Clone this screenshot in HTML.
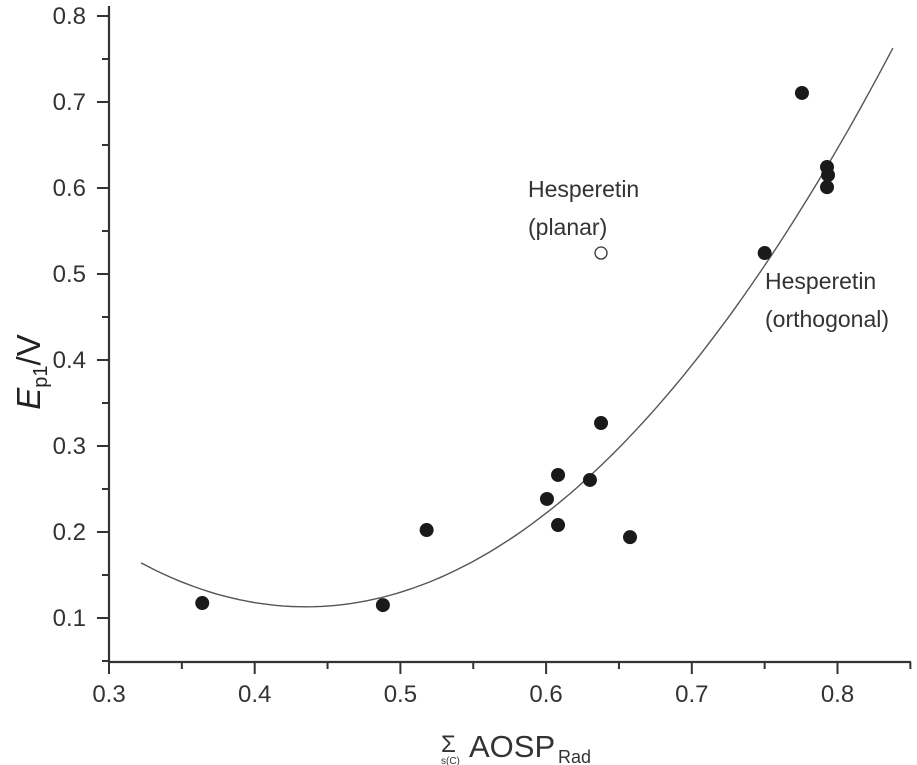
<!DOCTYPE html>
<html><head><meta charset="utf-8"><style>
body{margin:0;background:#fff;}
svg{display:block;font-family:"Liberation Sans",sans-serif;}
</style></head><body>
<svg id="chart" width="917" height="765" viewBox="0 0 917 765">
<g id="axes"></g>
<g id="marks"></g>
<text x="528" y="197" font-size="23" fill="#333">Hesperetin</text>
<text x="528" y="235" font-size="23" fill="#333">(planar)</text>
<text x="765" y="289" font-size="23" fill="#333">Hesperetin</text>
<text x="765" y="327" font-size="23" fill="#333">(orthogonal)</text>
<text transform="translate(40,372) rotate(-90)" text-anchor="middle" font-size="33" fill="#222"><tspan font-style="italic">E</tspan><tspan font-size="20" dy="7">p1</tspan><tspan dy="-7">/V</tspan></text>
<g fill="#333">
<text x="441" y="752" font-size="24">Σ</text>
<text x="441" y="764" font-size="10">s(C)</text>
<text x="469" y="757" font-size="31">AOSP</text>
<text x="558" y="763" font-size="18">Rad</text>
</g>
</svg>
<script>
const xTicks=[0.3,0.4,0.5,0.6,0.7,0.8];
const yTicks=[0.1,0.2,0.3,0.4,0.5,0.6,0.7,0.8];
const xTickLabels=["0.3","0.4","0.5","0.6","0.7","0.8"];
const yTickLabels=["0.1","0.2","0.3","0.4","0.5","0.6","0.7","0.8"];
const xVals=[0.364,0.488,0.518,0.6006,0.6082,0.6082,0.6301,0.6377,0.6576,0.750,0.7756,0.7928,0.7935,0.7928];
const yVals=[0.1174,0.115,0.2023,0.2384,0.2663,0.2081,0.2605,0.3267,0.194,0.5244,0.7105,0.6244,0.615,0.601];
const openX=[0.6377];
const openY=[0.5244];
const fitCoef=[4.0,0.435,0.113]; // a, vertex x, vertex y
const fitRange=[0.322,0.838];
const NS="http://www.w3.org/2000/svg";
function sx(v){return 109+(v-0.3)*1457;}
function sy(v){return 16+(0.8-v)*860;}
function mk(tag,at,parent){const e=document.createElementNS(NS,tag);for(const k in at)e.setAttribute(k,at[k]);parent.appendChild(e);return e;}
const ax=document.getElementById('axes'),mg=document.getElementById('marks');
let e=mk('line',{x1:109,y1:662,x2:911,y2:662,stroke:'#333','stroke-width':2.2},ax);


e=mk('line',{x1:109,y1:6,x2:109,y2:663,stroke:'#333','stroke-width':2.2},ax);


for(let i=0;i<xTicks.length;i++){
 const x=sx(xTicks[i]);
 mk('line',{x1:x,y1:662,x2:x,y2:674,stroke:'#333','stroke-width':2},ax);
 const m=sx(xTicks[i]+0.05);
 mk('line',{x1:m,y1:662,x2:m,y2:669,stroke:'#333','stroke-width':2},ax);
 const t=mk('text',{x:x,y:702,'text-anchor':'middle','font-size':24,fill:'#333'},ax);
 t.textContent=xTickLabels[i];
 
 
}
for(let i=0;i<yTicks.length;i++){
 const y=sy(yTicks[i]);
 mk('line',{x1:97,y1:y,x2:109,y2:y,stroke:'#333','stroke-width':2},ax);
 const m=sy(yTicks[i]-0.05);
 mk('line',{x1:102,y1:m,x2:109,y2:m,stroke:'#333','stroke-width':2},ax);
 const t=mk('text',{x:86,y:y+8,'text-anchor':'end','font-size':24,fill:'#333'},ax);
 t.textContent=yTickLabels[i];
 
 
}
let d='';
for(let k=0;k<=100;k++){const x=fitRange[0]+(fitRange[1]-fitRange[0])*k/100;const y=fitCoef[0]*(x-fitCoef[1])**2+fitCoef[2];d+=(k?'L':'M')+sx(x).toFixed(1)+','+sy(y).toFixed(1);}
e=mk('path',{d:d,fill:'none',stroke:'#555','stroke-width':1.4},mg);


for(let i=0;i<xVals.length;i++){
 const c=mk('circle',{cx:sx(xVals[i]),cy:sy(yVals[i]),r:7,fill:'#1a1a1a'},mg);
 
 
}
for(let i=0;i<openX.length;i++){
 const c=mk('circle',{cx:sx(openX[i]),cy:sy(openY[i]),r:6,fill:'#fff',stroke:'#333','stroke-width':1.3},mg);
 
 
}
</script>
</body></html>
